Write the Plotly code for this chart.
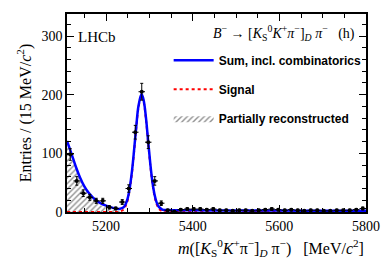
import numpy as np
import plotly.graph_objects as go

# ---- binned data (15 MeV bins from 5110 to 5800) ----
BIN_LO = 5110.0
BIN_WIDTH = 15.0
counts = [98, 53, 32, 25, 19, 19, 8, 6, 17, 40,
          136, 205, 119, 53, 15, 3, 1, 4, 5, 5,
          5, 4, 5, 3, 3, 2, 3, 3, 2, 3,
          4, 5, 4, 3, 4, 3, 2, 3, 3, 2,
          2, 3, 3, 3, 4, 6]

# ---- fit components at node masses ----
m_nodes = [5110, 5120, 5130, 5140, 5150, 5160, 5170, 5180, 5190, 5200,
           5210, 5220, 5230, 5240, 5245, 5250, 5255, 5260, 5265, 5270,
           5275, 5282, 5287, 5292, 5297, 5302, 5307, 5312, 5317, 5322,
           5330, 5340, 5360, 5400, 5500, 5600, 5700, 5800]
partial = [117, 96, 74, 55, 40, 29, 21, 15, 10.5, 7.5,
           5, 3, 1.5, 0.5, 0.2, 0, 0, 0, 0, 0,
           0, 0, 0, 0, 0, 0, 0, 0, 0, 0,
           0, 0, 0, 0, 0, 0, 0, 0]
combinatorial = [4, 4, 4, 3.9, 3.8, 3.7, 3.6, 3.5, 3.5, 3.4,
                 3.3, 3.3, 3.2, 3.2, 3.1, 3.1, 3.1, 3, 3, 3,
                 3, 3, 3, 3, 3, 3, 3, 3, 3, 3,
                 3, 3, 2.9, 2.8, 2.6, 2.4, 2.2, 2.0]
signal = [0, 0, 0, 0, 0, 0, 0, 0, 0, 0,
          0, 0, 0.5, 3.9, 9.5, 20, 39, 67, 104, 144,
          178, 198, 187, 159, 120, 81, 49, 27, 13, 5.7,
          1.2, 0.2, 0, 0, 0, 0, 0, 0]

x_range = [5110, 5800]
y_range = [0, 337.5]
x_ticks = [5200, 5400, 5600, 5800]
y_ticks = [0, 100, 200, 300]

centers = [BIN_LO + BIN_WIDTH * (i + 0.5) for i in range(len(counts))]
errs = [float(np.sqrt(c)) for c in counts]
total = [p + c + s for p, c, s in zip(partial, combinatorial, signal)]

SERIF = "Liberation Serif, Times New Roman, serif"
SANS = "Liberation Sans, Arial, sans-serif"

fig = go.Figure()

fig.add_trace(go.Scatter(
    x=m_nodes, y=partial, mode="lines", line=dict(width=0, shape="spline"),
    fill="tozeroy", fillcolor="rgba(0,0,0,0)",
    fillpattern=dict(shape="/", fgcolor="#222222", bgcolor="rgba(255,255,255,0)",
                     size=4, solidity=0.35),
    name="<b>Partially reconstructed</b>", legendrank=3, legendgroup="c"))

fig.add_trace(go.Scatter(
    x=m_nodes, y=signal, mode="lines",
    line=dict(color="#ff0000", width=2, dash="dot", shape="spline"),
    name="<b>Signal</b>", legendrank=2, legendgroup="b"))

fig.add_trace(go.Scatter(
    x=m_nodes, y=total, mode="lines",
    line=dict(color="#0000ff", width=2.5, shape="spline"),
    name="<b>Sum, incl. combinatorics</b>", legendrank=1, legendgroup="a"))

fig.add_trace(go.Scatter(
    x=centers, y=counts, mode="markers",
    marker=dict(color="black", size=4),
    error_y=dict(type="data", array=errs, color="black", thickness=1, width=1.5),
    error_x=dict(type="constant", value=BIN_WIDTH / 2, color="black", thickness=1, width=0),
    showlegend=False))

axis_common = dict(showline=True, linecolor="black", linewidth=1.5, mirror="allticks",
                   ticks="inside", tickcolor="black", tickwidth=1, showgrid=False,
                   zeroline=False, tickfont=dict(family=SERIF, size=14, color="black"))

fig.update_xaxes(range=x_range, tickvals=x_ticks, ticklen=7,
                 minor=dict(dtick=50, ticklen=4, tickcolor="black", ticks="inside"),
                 **axis_common)
fig.update_yaxes(range=y_range, tickvals=y_ticks, ticklen=7,
                 minor=dict(dtick=20, ticklen=4, tickcolor="black", ticks="inside"),
                 title=dict(text="Entries / (15 MeV/<i>c</i><sup>2</sup>)",
                            font=dict(family=SERIF, size=16, color="black"), standoff=6),
                 **axis_common)

fig.update_layout(
    width=392, height=266,
    margin=dict(l=67, r=20, t=14, b=54),
    plot_bgcolor="white", paper_bgcolor="white",
    showlegend=True,
    legend=dict(x=0.34, y=0.84, xanchor="left", yanchor="top",
                bgcolor="rgba(0,0,0,0)", traceorder="grouped", tracegroupgap=10,
                itemwidth=40, font=dict(family=SANS, size=12, color="black")),
    annotations=[
        dict(text="LHCb", xref="paper", yref="paper", x=0.03, y=0.935,
             xanchor="left", yanchor="top", showarrow=False,
             font=dict(family=SERIF, size=15, color="black")),
        dict(text="<i>B</i><sup>−</sup> → [<i>K</i><sub>S</sub><sup>0</sup><i>K</i><sup>+</sup><i>π</i><sup>−</sup>]<sub><i>D</i></sub> <i>π</i><sup>−</sup>   (h)",
             xref="paper", yref="paper", x=0.97, y=0.965,
             xanchor="right", yanchor="top", showarrow=False,
             font=dict(family=SERIF, size=14, color="black")),
        dict(text="<i>m</i>([<i>K</i><sub>S</sub><sup>0</sup><i>K</i><sup>+</sup>π<sup>−</sup>]<sub><i>D</i></sub> π<sup>−</sup>)   [MeV/<i>c</i><sup>2</sup>]",
             xref="paper", yref="paper", x=1.0, y=-0.115,
             xanchor="right", yanchor="top", showarrow=False,
             font=dict(family=SERIF, size=16, color="black")),
    ],
)

fig.write_html("out.html", config={"displayModeBar": False},
               post_script="document.body.style.margin='0';document.body.style.overflow='hidden';")
